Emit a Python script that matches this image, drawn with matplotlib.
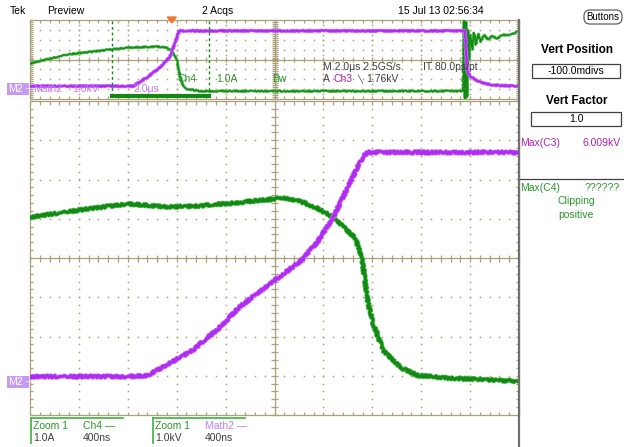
import numpy as np
import matplotlib
matplotlib.use('Agg')
import matplotlib.pyplot as plt
from matplotlib.collections import LineCollection
from matplotlib.patches import Rectangle, FancyBboxPatch, Polygon

plt.rcParams['font.family'] = ['Liberation Sans', 'DejaVu Sans']

W, H = 624, 447

# ---- zoom window record (time in ns) ----
zoom_t_math2 = [-2000, -1207, -1043, -879, -667, -470, -282, -12, 209, 348, 479, 618, 724, 765, 2000]
zoom_math2_kv = [0.03, 0.03, 0.05, 0.33, 0.71, 1.22, 1.81, 2.45, 2.96, 3.44, 4.08, 4.97, 5.64, 5.74, 5.74]

zoom_t_ch4 = [-2000, -1599, -1207, -1076, -879, -609, -339, -12, 70, 209, 348, 479, 659,
              716, 740, 765, 806, 888, 1027, 1166, 1436, 2000]
zoom_ch4_a = [4.74, 4.92, 5.08, 5.05, 5.00, 5.03, 5.10, 5.20, 5.23, 5.15, 4.97, 4.74, 4.21,
              3.72, 3.14, 2.55, 2.04, 1.35, 0.92, 0.71, 0.64, 0.56]

# ---- full record (time in us) ----
full_t_math2 = [-5.34, -1.12, -0.55, -0.02, 0.39, 0.63, 0.76, 12.45, 12.54, 12.66, 13.07, 13.60, 14.62]
full_math2_kv = [0.0, 0.0, 0.9, 1.9, 3.0, 4.7, 5.6, 5.6, 1.5, 1.0, 0.4, 0.1, 0.0]

full_t_ch4 = [-5.34, -3.82, -1.37, -0.14, 0.27, 0.47, 0.67, 0.72, 0.88, 1.08, 1.62, 12.37,
              12.41, 12.45, 12.49, 12.54, 12.58, 12.62, 12.66, 12.74, 12.82, 12.90, 12.99,
              13.11, 13.23, 13.40, 13.56, 13.76, 14.01, 14.30, 14.58]
full_ch4_a = [3.3, 4.2, 4.9, 5.0, 4.9, 4.5, 3.7, 2.9, 1.2, 0.7, 0.5, 0.5,
              7.7, -0.3, 7.5, -0.1, 6.7, 3.7, 6.2, 4.7, 6.4, 5.2, 6.3,
              5.5, 6.2, 5.7, 6.1, 5.8, 6.2, 6.2, 6.5]

# channel settings
ZOOM_NS_PER_DIV = 400
FULL_US_PER_DIV = 2.0
FULL_X_OFFSET = -2.33          # divisions from centre to the zoom centre
M2_POS_ZOOM, CH4_POS_ZOOM = -3.05, -3.7
M2_POS_FULL, CH4_POS_FULL = -2.7, -3.7
TRIG_T_US = 0.46

GRID = '#aaa07c'
GREEN = '#148814'
GREEN_LT = '#5cc45c'
PURPLE = '#b02cf0'
PURPLE_LT = '#cc70ff'
TXT_GREEN = '#2a962a'
TXT_MAG = '#b020b0'
TXT_PURPLE = '#c07ef8'
TXT_GRAY = '#404040'

fig = plt.figure(figsize=(W / 100, H / 100), dpi=100)
fig.patch.set_facecolor('white')


def px_axes(x0, y0, x1, y1):
    return fig.add_axes([x0 / W, 1 - y1 / H, (x1 - x0) / W, (y1 - y0) / H])


def graticule(ax, px, py, dot_dy, tick):
    ax.set_xlim(-5, 5)
    ax.set_ylim(-4, 4)
    ax.axis('off')
    # dotted division lines
    xs = np.arange(-5, 5.001, 0.2)
    for gy in range(-3, 4):
        if gy == 0:
            continue
        ax.plot(xs, np.full_like(xs, gy), ls='none', marker='s', ms=1.1, mew=0, color=GRID)
    ys = np.arange(-4, 4.001, dot_dy)
    for gx in range(-4, 5):
        if gx == 0:
            continue
        ax.plot(np.full_like(ys, gx), ys, ls='none', marker='s', ms=1.1, mew=0, color=GRID)
    segs = [[(-5, 0), (5, 0)], [(0, -4), (0, 4)],
            [(-5, -4), (5, -4)], [(-5, 4), (5, 4)], [(-5, -4), (-5, 4)], [(5, -4), (5, 4)]]
    tx, ty = tick / px, tick / py
    for x in np.arange(-5, 5.001, 0.2):
        segs.append([(x, -ty), (x, ty)])
        segs.append([(x, 4), (x, 4 - ty)])
        segs.append([(x, -4), (x, -4 + ty)])
    for y in np.arange(-4, 4.001, 0.2):
        segs.append([(-tx, y), (tx, y)])
        segs.append([(-5, y), (-5 + tx, y)])
        segs.append([(5, y), (5 - tx, y)])
    ax.add_collection(LineCollection(segs, colors=GRID, linewidths=0.9, clip_on=False))


def trace(ax, x, y, color, light, lw, wiggle):
    halo, = ax.plot(x, y, color=light, lw=lw + 1.0, solid_joinstyle='round')
    core, = ax.plot(x, y, color=color, lw=lw, solid_joinstyle='round')
    for ln in (halo, core):
        ln.set_sketch_params(scale=wiggle, length=2.0, randomness=2.0)


# ---- overview ----
ov = px_axes(30, 20, 519, 99)
graticule(ov, 48.9, 9.9, 0.5, 3)
fx_m2 = np.array(full_t_math2) / FULL_US_PER_DIV + FULL_X_OFFSET
fx_c4 = np.array(full_t_ch4) / FULL_US_PER_DIV + FULL_X_OFFSET
trace(ov, fx_c4, np.array(full_ch4_a) + CH4_POS_FULL, GREEN, GREEN_LT, 1.0, 0.6)
trace(ov, fx_m2, np.array(full_math2_kv) + M2_POS_FULL, PURPLE, PURPLE_LT, 1.4, 0.6)
# zoom window markers
zl = FULL_X_OFFSET - 1.0
zr = FULL_X_OFFSET + 1.0
for zx in (zl, zr):
    ov.plot([zx, zx], [-3.7, 4], color=GREEN, lw=1.0, ls=(0, (2, 2)))
ov.plot([zl - 0.03, zr + 0.03], [-3.7, -3.7], color=GREEN, lw=3, solid_capstyle='butt', clip_on=False)

# ---- zoom window ----
mn = px_axes(30, 101, 519, 415)
graticule(mn, 48.9, 39.25, 0.2, 3.5)
zx_m2 = np.array(zoom_t_math2) / ZOOM_NS_PER_DIV
zx_c4 = np.array(zoom_t_ch4) / ZOOM_NS_PER_DIV
trace(mn, zx_c4, np.array(zoom_ch4_a) + CH4_POS_ZOOM, GREEN, GREEN_LT, 2.0, 1.3)
trace(mn, zx_m2, np.array(zoom_math2_kv) + M2_POS_ZOOM, PURPLE, PURPLE_LT, 2.0, 1.3)

# ---- annotations in pixel space ----
an = fig.add_axes([0, 0, 1, 1], zorder=10)
an.set_xlim(0, W)
an.set_ylim(H, 0)
an.axis('off')


def t(x, y, s, color='black', size=7.5, ha='left', **kw):
    an.text(x, y, s, color=color, fontsize=size, ha=ha, va='center', **kw)


t(10, 11, 'Tek')
t(47, 11, 'Preview')
t(218, 11, '2 Acqs', ha='center')
t(398, 11, '15 Jul 13 02:56:34')

# trigger position marker
tx_px = 274.5 + (TRIG_T_US / FULL_US_PER_DIV + FULL_X_OFFSET) * 48.9
an.add_patch(Polygon([(tx_px - 4.5, 17), (tx_px + 4.5, 17), (tx_px, 23)], color='#f07830'))

# overview labels
t(177, 79, 'Ch4', TXT_GREEN)
t(216, 79, '1.0A', TXT_GREEN)
t(272, 79, 'Bw', TXT_GREEN)
t(323, 67, 'M 2.0\u03bcs 2.5GS/s', TXT_GRAY)
t(423, 67, 'IT 80.0ps/pt', TXT_GRAY)
t(323, 79, 'A', TXT_GRAY)
t(334, 79, 'Ch3', TXT_MAG)
t(357, 79, '\u2572', TXT_GRAY, size=6)
t(366, 79, '1.76kV', TXT_GRAY)
for y0 in (83, 376):
    an.add_patch(Rectangle((7, y0), 22, 12, color='#c49af4', lw=0))
    t(8, y0 + 6, 'M2', 'white')
    t(23, y0 + 6, '\u2192', 'white', size=6)
t(33, 89, 'Math2', TXT_PURPLE)
t(72, 89, '1.0kV', TXT_PURPLE)
t(133, 89, '2.0\u03bcs', TXT_PURPLE)

# bottom readouts
for x0, name, ncol, scale in ((31, 'Ch4 \u2014', TXT_GREEN, '1.0A'),
                              (153, 'Math2 \u2014', TXT_PURPLE, '1.0kV')):
    an.plot([x0, x0 + 92], [418, 418], color='#40b040', lw=1.2)
    an.plot([x0, x0], [418, 443], color='#40b040', lw=1.2)
    t(x0 + 2, 426, 'Zoom 1', TXT_GREEN)
    t(x0 + 52, 426, name, ncol)
    t(x0 + 2, 438, scale, TXT_GRAY)
    t(x0 + 52, 438, '400ns', TXT_GRAY)

# right-hand panel
an.plot([519, 519], [20, 447], color='#707070', lw=1.6)
an.add_patch(FancyBboxPatch((584, 10), 38, 14, boxstyle='round,pad=0,rounding_size=6',
                            fc='white', ec='#606060', lw=0.9))
t(603, 17, 'Buttons', ha='center', size=7)
t(577, 50, 'Vert Position', size=8.5, ha='center', weight='bold')
an.add_patch(Rectangle((532, 64), 88, 14, fc='white', ec='#404040', lw=0.9))
t(576, 71, '-100.0mdivs', ha='center')
t(577, 101, 'Vert Factor', size=8.5, ha='center', weight='bold')
an.add_patch(Rectangle((531, 112), 90, 14, fc='white', ec='#404040', lw=0.9))
t(576, 119, '1.0', ha='center')
t(520, 143, 'Max(C3)', TXT_MAG)
t(621, 143, '6.009kV', TXT_MAG, ha='right')
an.plot([520, 624], [179, 179], color='#404040', lw=0.9)
t(520, 188, 'Max(C4)', TXT_GREEN)
t(620, 188, '??????', TXT_GREEN, ha='right')
t(576, 201, 'Clipping', TXT_GREEN, ha='center')
t(576, 215, 'positive', TXT_GREEN, ha='center')

fig.savefig('out.png', dpi=100)
